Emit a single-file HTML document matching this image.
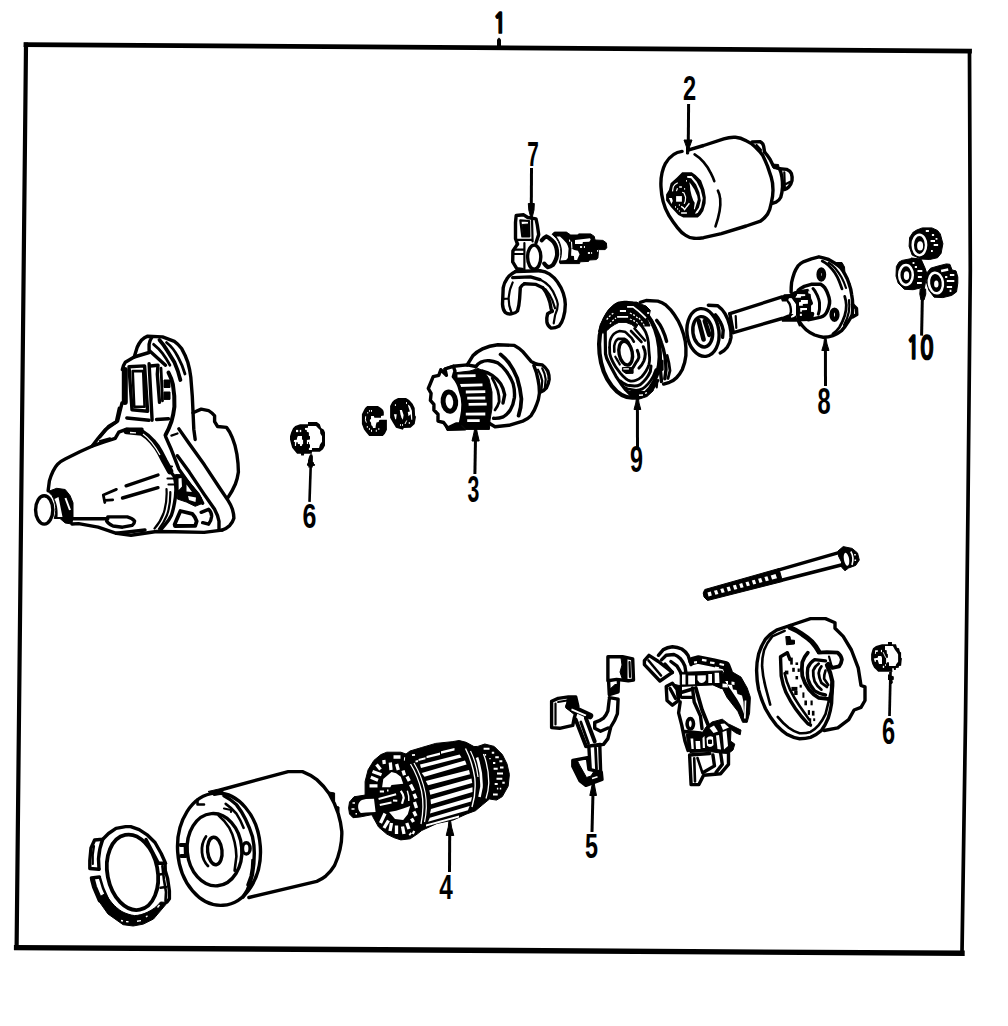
<!DOCTYPE html>
<html lang="en">
<head>
<meta charset="utf-8">
<title>Starter motor exploded view</title>
<style>
html,body{margin:0;padding:0;background:#fff;}
body{width:1008px;height:1026px;overflow:hidden;}
svg{display:block;}
.l{fill:none;stroke:#000;stroke-width:3.4;stroke-linecap:round;stroke-linejoin:round;}
.t{fill:none;stroke:#000;stroke-width:2.2;stroke-linecap:round;stroke-linejoin:round;}
.h{fill:none;stroke:#000;stroke-width:4.6;stroke-linecap:round;stroke-linejoin:round;}
.f{fill:#000;stroke:#000;stroke-width:1;stroke-linejoin:round;}
.w{fill:#fff;stroke:#000;stroke-width:3.4;stroke-linecap:round;stroke-linejoin:round;}
.wt{fill:#fff;stroke:#000;stroke-width:2.2;stroke-linecap:round;stroke-linejoin:round;}
.wf{fill:#fff;stroke:none;}
.ws{fill:none;stroke:#fff;stroke-width:2;stroke-linecap:butt;}
.ld{fill:none;stroke:#000;stroke-width:3;stroke-linecap:butt;}
.n{font-family:"Liberation Sans","DejaVu Sans Condensed",sans-serif;font-weight:700;font-size:37px;fill:#000;text-anchor:middle;}
</style>
</head>
<body>
<svg width="1008" height="1026" viewBox="0 0 1008 1026" shape-rendering="geometricPrecision">
<rect x="0" y="0" width="1008" height="1026" fill="#fff"/>
<!-- 00_frame -->
<g id="frame" fill="none" stroke="#000" stroke-linecap="square">
<path d="M26,44.6 L969.5,51.1" stroke-width="4.8"/>
<path d="M26,44.6 L16.6,947.5" stroke-width="4.2"/>
<path d="M969.5,51.1 L970.3,270 L968,505 L965.5,720 L962,953.2" stroke-width="3.7" stroke-linejoin="round"/>
<path d="M16.6,947.6 L962,953.3" stroke-width="5.4"/>
<path d="M497,39.5 L499,37.5 L501,39.5 L501,47 L497,47 Z" fill="#000" stroke="none"/>
</g>
<!-- 01_labels -->
<g id="labels">
<text class="n" style="font-family:'NanumGothic','Liberation Sans',sans-serif;font-size:28.2px;stroke:#000;stroke-width:1.7;stroke-linejoin:miter" transform="translate(499.8,32.9) scale(0.795,1)">1</text>
<text class="n" style="font-size:34.2px" transform="translate(689.5,100.1) scale(0.691,1)">2</text>
<text class="n" style="font-size:35.0px" transform="translate(533.0,166.1) scale(0.593,1)">7</text>
<text class="n" style="font-family:'NanumGothic','Liberation Sans',sans-serif;font-size:31px;stroke:#000;stroke-width:1.7;stroke-linejoin:miter" transform="translate(919.9,358.9) scale(0.733,1)">10</text>
<text class="n" style="font-size:36.2px" transform="translate(824.0,414.1) scale(0.652,1)">8</text>
<text class="n" style="font-size:36.2px" transform="translate(636.5,472.1) scale(0.645,1)">9</text>
<text class="n" style="font-size:36.2px" transform="translate(473.5,502.1) scale(0.589,1)">3</text>
<text class="n" style="font-size:35.8px" transform="translate(309.4,528.0) scale(0.698,1)">6</text>
<text class="n" style="font-size:37.5px" transform="translate(888.5,744.1) scale(0.630,1)">6</text>
<text class="n" style="font-size:35.0px" transform="translate(591.5,858.1) scale(0.668,1)">5</text>
<text class="n" style="font-size:35.9px" transform="translate(446.1,898.5) scale(0.679,1)">4</text>
</g>
<!-- 10_part2 -->
<g id="solenoid">
<!-- leader -->
<path class="ld" d="M688.6,104 L688.3,142"/>
<path class="f" d="M684,140 L692,140 L689.5,147 L688.5,154 L686.5,154 L686.5,147 Z"/>
<!-- body outline -->
<path class="l" d="M682.1,151.4 C676,152 670,156 665.5,163.3 C662,170 660.5,179 661,187.1 C661.3,193 662,197 663.1,201.4 C664.5,207 666.5,211.5 669,215.7 C672,220.5 674.5,224 677.4,227.6 C680,231 682.5,233.5 685.7,235.4 C688.5,237.3 691,238.2 694,238.3 C697,238.5 700,238.3 703.6,237.7 L721.4,233.6 L746.2,226 L760.5,221.2 C764,218.5 766,216.5 767.6,214 C769.5,211 770.5,207.5 771.2,203.3 C772.5,198 773,194 773,190.2 C773,185 772.5,181 771.2,177.1 L767.6,166.4 C766,162.5 764.5,159 762.9,155.7 C761,152.5 758.5,150 755.7,147.4 C753,144.5 750,142.5 746.2,140.8 C742,138.5 739,137.5 735.5,137.3 C731,137 727.5,137.7 723.8,138.9 L703.6,145.5 L688,150.2"/>
<!-- dashed face arcs -->
<path class="t" style="stroke-width:2.6" d="M694.6,154.4 C698,156.5 701,159 703.6,162.1 C706.5,165.5 709,169 710.7,172.9 C712.3,176 713.5,178.5 714.3,181.2"/>
<path class="t" style="stroke-width:2.6" d="M717.9,190.7 C719.3,193.5 720,196 720.2,199 C720.6,203 720.3,207 719.6,211 C718.7,216 717.2,221.5 715.5,226.4"/>
<!-- top tab -->
<path class="l" d="M752.1,142 L760,141.6 C762,142.5 763.2,144 763.6,146 L764.6,152.1"/>
<path class="t" d="M756.5,145 L761,150"/>
<!-- rear cap -->
<path class="l" d="M764.6,152.1 C767,154.5 768.5,157 770,159.3 L773.6,166.4 L779.5,168.8 C780.8,171.5 781.5,174 781.9,177.1 C782.4,180.5 782.6,183.5 782.5,186.7 C782.3,190.5 781.8,194 780.7,197.4 C779.5,200 778,201.2 776,202.1 L772.4,203.3"/>
<path class="f" d="M771.5,164 L778.5,164.5 L779.5,169.5 L773.5,168.5 Z"/>
<!-- knob -->
<path class="l" d="M779.5,168.8 L786.7,169.4 C789,170.3 790.5,171.8 791.4,173.6 C792.2,176 792.3,178.5 792,180.7 C791.5,183 790.5,185 789,186.7 C787.5,188.2 786,189 784.3,189.6"/>
<path class="t" d="M784.3,172.4 L784.9,189 M785,184.5 L790.2,181.8"/>
<!-- hub -->
<path d="M682.2,172.2 L691.7,172.2 L695.6,175 L701.1,180.6 L704.4,189.4 L705.8,197.2 L705.6,203.3 L703.3,211.1 L700.6,215 L697.8,217.5 L683.3,217.5 L678.3,215 L671.1,207.2 L666.1,200.6 L666.1,194.4 L668.9,190 L670.6,183.3 L676.7,177.8 Z" fill="#000"/>
<path class="wf" d="M687.2,176.1 L691.7,176.1 L696.7,181.7 L700.6,189.4 L702.8,198.3 L701.1,207.2 L697.8,212.8 L695.3,213.9 L695.6,212.2 L698.9,207.8 L700.8,200.6 L699.4,192.2 L696.1,184.4 L691.1,178.3 L687.2,177.8 Z"/>
<path class="wf" d="M689.4,182.2 L691.1,184.4 L694.4,189.4 L697.2,196.1 L697.8,199.4 L696.1,205 L694.7,209.4 L693.9,208.9 L694.7,202.8 L693.3,200.6 L691.7,196.1 L690.3,190 L690,186.1 Z"/>
<rect class="wf" x="676.1" y="196.1" width="5.8" height="5.6"/>
<path class="wf" d="M668.9,198.1 L671.9,198.1 L672.8,201.1 L671.4,203.9 Z"/>
<path class="ws" style="stroke-width:1.2" d="M672.5,191.4 L673.3,186.7 L675,184.4 L677.8,182.8 M676.4,191.1 L677.5,188.3 M682.2,192.2 L684,193 L685.6,197.2 L685.3,201.1 L684.2,203.9"/>
<path class="ws" style="stroke-width:1.7" d="M679.2,187 L681.9,187 M681.1,213 L686.9,213"/>
<path class="ws" style="stroke-width:1.4" d="M681.1,206.4 L683.3,207.8 L684.6,209.6 L686.7,206.7 L689.4,203.3"/>
<g fill="#fff"><rect x="686.1" y="180" width="0.9" height="1.7"/><rect x="684.2" y="188" width="0.9" height="1.7"/><rect x="678.9" y="204.2" width="0.9" height="1.7"/><rect x="675" y="206.1" width="0.9" height="1.7"/><rect x="677.2" y="208.1" width="0.9" height="1.7"/><rect x="678.9" y="210.3" width="0.9" height="1.4"/></g>
</g>
<!-- 11_part7 -->
<g id="fork">
<!-- leader -->
<path class="ld" d="M531.5,168.1 L531.3,206"/>
<path class="f" d="M528.3,203.5 L534.3,203.5 L534,210 L532.3,217 L530.6,217 L528.8,210 Z"/>
<!-- tab -->
<path class="l" d="M517.5,244.1 L515.5,238.7 L515.5,222.3 L516.2,215.5 L523.7,214.8 L527.8,217.5 L536,218.9 L537.3,225 L538.7,234.6 L536,242.8"/>
<path class="t" d="M520.3,220.3 L522.3,236.5 L529.3,236.5 L529.1,221 Z"/>
<path class="f" d="M522.2,224.5 L528.2,224 L528.5,236 L523.2,236 Z"/>
<path class="t" d="M516.8,239.8 L532,239.8 M532,219 L532.6,241.5"/>
<!-- left boss -->
<path class="l" d="M517.5,244.1 L512.9,251 L512.7,261.9 L516.8,268.7 L522.3,269.4"/>
<path class="t" d="M514,249.6 L524.4,249.6 M514,254 L524.4,254 M524.4,243 L524.4,272"/>
<!-- centre ellipse -->
<ellipse class="l" cx="534.2" cy="257.1" rx="6.6" ry="12"/>
<!-- top bars -->
<path class="l" d="M515.5,271.5 L540,270.8"/>
<path class="l" d="M512.7,277.6 L530.5,276.9 L540,279.6"/>
<path class="l" d="M524.4,283.7 L536,284.4 L542.8,287.8"/>
<!-- left arm -->
<path class="l" d="M515.5,271.5 C511,274 508.5,276 507.3,278.3 C505,281.5 503.7,284.5 503.2,287.8 L502.5,304.2 C502.7,308 503.5,310.5 505.2,312.4 C507,313.8 509,314.2 511.4,313.8 C514,313.5 516,312.8 517.5,311 C518.7,307 519.3,303 519.6,298.8 L520.3,287.8 C521.3,285.8 522.5,284.5 524.4,283.7"/>
<path class="t" d="M512.7,282.4 C510.5,287 509.2,292 508.7,297.4 C508.5,302.5 509.5,308 511.2,311.5 M503.5,298.8 L508.5,298.5"/>
<!-- right arm -->
<path class="l" d="M540,270.8 C544,271.3 547,272.5 549.6,274.2 C553,276.5 555.5,279 557.8,282.4 C560,285.5 562,289 563.3,293.3 C564.5,297 565.2,300.5 565.3,304.2 C565.3,309 564.7,313.5 563.3,317.9 C562.5,321 561,323.8 559.2,326 C556.5,327.5 554,328.2 551,328.1 C548.5,326.5 547.2,324.5 546.9,322 C546.6,319 546.8,316.5 547.6,313.8 L552.3,311"/>
<path class="l" d="M542.8,287.8 C545,290.5 546.8,293.5 548.2,297.4 C549.7,301 550.6,304.5 551,308.3 L552.3,311.5"/>
<path class="t" d="M540,279.6 C544,281.5 547,283.8 549.6,286.5 C552,289.5 553.8,292.5 555.1,296 C556.5,299 557.4,301.5 557.8,304.2 C557.8,308 556.5,312 555.1,315.1 L553.7,323.3"/>
<path class="t" d="M545.5,289.2 C548.5,292.5 550.5,296 552.3,300.1 L555.1,308.3"/>
<!-- plunger C ring -->
<path class="h" style="stroke-width:4.2" d="M541.8,240.3 C543.3,238.3 544.8,237 546.4,236.4 C547.6,236.8 548.5,237.4 549.6,238.4 C551.2,239.5 552.6,240.8 553.8,242.3 C555,244 555.9,246 556.4,247.9 C557,250.3 557.2,252.6 557.1,255 C556.8,257 556.2,259 555.4,260.7 C554.7,262.3 553.9,263.7 552.9,265 C551.4,266.3 549.8,267 547.9,267.1 C546.4,266.2 545.2,265 544.3,263.6"/>
<!-- plunger body -->
<path class="f" d="M552.1,234.3 L554.3,232.1 L566.4,232.1 L570.7,235 L577.9,235 L578.6,233.9 L590.7,233.9 L594.3,236.4 L595,240 L602.9,240.4 L606.4,242.9 L606.8,247.9 L605,249.6 L598.6,249.6 L597.9,257.9 L596.4,259.6 L589.3,260 L588.6,261.4 L580,261.8 L579.6,263.6 L560,263.6 L559.3,262.1 C560.8,258 561.2,253 560.6,248.5 C559.8,243.5 557.5,239 554,236 Z"/>
<path class="wf" d="M556.6,236.6 L560,236.4 L562.9,239.3 L566.4,242.9 C567.5,244.7 568.3,246.6 568.6,248.6 L568.2,253.6 L567.9,257.9 L566.1,260 L560.5,260.4 C561.8,256.5 562.2,252.5 561.8,248.8 C561,244 559.2,240 556.6,236.6 Z"/>
<path class="wf" d="M571.4,248.6 L574.3,250 L577.9,250.7 L579.6,254.3 L577.9,257.9 L577.1,260 L574.3,260 L573.9,256.1 L571.1,255.7 Z"/>
<path class="wf" d="M575,240 L590,238.2 L590.7,239.6 L589.3,241.8 L582.9,242.1 L582.5,243.9 L575,243.9 Z"/>
<path class="ws" style="stroke-width:1.1" d="M569.4,239.6 L569.9,241.8 M571.5,241.8 L571.9,248.5"/>
<g fill="#fff"><rect x="580" y="246.1" width="2.1" height="1.8"/><rect x="583.9" y="246.1" width="1.1" height="1.8"/><rect x="587.9" y="252.1" width="2.1" height="1.8"/><rect x="591.1" y="252.1" width="1" height="1.8"/><rect x="597.1" y="250" width="1.1" height="1.8"/></g>
</g>
<!-- 12_part10 -->
<g id="nuts">
<!-- leader -->
<path class="ld" d="M922.6,286 L921.6,335.6"/>
<path class="f" d="M920.2,289 L925.6,289 L925.8,294 L924,300 L921,300 L919.8,294 Z"/>
<path class="f" d="M911,258 L921,259 L925,268 L927,274 L924,290 L922,290 L922,270 Z"/>
<!-- top nut -->
<path class="f" d="M922.3,227.9 L931.9,227.9 L937.6,230.5 L940.3,234 L942.9,243.7 L941.1,253.3 L937.6,257.7 L929.7,259.5 L921,259 L912.2,255.1 L909.1,246.3 L909.6,237.5 L913.1,232.3 L916.6,230.1 Z"/>
<ellipse cx="919.4" cy="245" rx="6.7" ry="10.2" fill="none" stroke="#fff" stroke-width="2.5"/>
<ellipse cx="920.1" cy="245.9" rx="3" ry="4.6" fill="#fff"/>
<path class="ws" style="stroke-width:1.8" d="M925.8,231 L928.9,231 M931.9,235 L934.1,235 M930.6,241 L935,241 M933.7,245 L938.1,245 M931,251 L932.8,251 M936.5,238 L936.5,239.8"/>
<!-- left nut -->
<path class="f" d="M902.1,260.4 L911.3,258.6 L920.1,259.9 L923.6,267.4 L924.5,281.4 L922.7,287.5 L913.1,289.7 L904.3,289.3 L898.2,283.2 L896,276.1 L896.4,266.5 L899,262.1 Z"/>
<ellipse cx="906" cy="275" rx="6.8" ry="10" fill="none" stroke="#fff" stroke-width="2.5"/>
<ellipse cx="906.5" cy="275.7" rx="2.7" ry="4.4" fill="#fff"/>
<path class="ws" style="stroke-width:1.8" d="M912.6,263 L914.4,263 M914.8,267 L917,267 M917.5,271 L922.3,271 M917.9,277 L921.8,277 M917,283 L921.8,283"/>
<!-- right nut -->
<path class="f" d="M938.1,266 L946.4,263.9 L949.9,264.3 L952.1,270 L956,270.9 L957.8,277 L957.8,283.2 L956.5,291.9 L951.7,295.4 L942.9,297.6 L934.1,297.2 L928.9,290.2 L926.2,281.4 L927.1,272.6 L930.6,268.2 Z"/>
<ellipse cx="935.9" cy="283" rx="7" ry="10.4" fill="none" stroke="#fff" stroke-width="2.5" transform="rotate(-8 935.9 283)"/>
<ellipse cx="936.3" cy="284" rx="2.2" ry="3.6" fill="#fff"/>
<path class="ws" style="stroke-width:2.4" d="M941.1,271 L948.2,269.5"/>
<path class="ws" style="stroke-width:1.8" d="M949.9,275 L954.3,275 M945.1,277 L947.3,277 M946.8,281 L954.3,281 M946.8,287 L952.1,287 M950.5,289.7 L950.5,291.9"/>
</g>
<!-- 13_part8 -->
<g id="shaft-plate">
<!-- leader -->
<path class="ld" d="M825.4,348 L825.5,386"/>
<path class="f" d="M824.5,338 L826,338 L827,344 L829,350.5 L821.8,350.5 L823.8,344 Z"/>
<!-- plate outer -->
<path class="l" d="M791.1,292.2 C791.1,289 791.2,286 791.6,282.5 C792.3,279 793.2,276 794.3,272.9 C795.3,270.2 796.5,268 798,265.9 C799.8,264 801.7,262.7 803.9,261.6 L811.4,258.9 L818.9,256.8 L823.2,257.9 L828.6,259.5 L835,263.2 C837,264.5 838.8,265.8 840.4,267.5 C842,269.5 843.5,271.5 844.7,273.9 C846.5,277 848,280 849,283.6 C850.3,287 851.2,290.5 851.6,294.3 C852.3,298 852.7,301.5 852.7,305 C852.8,308.5 852.7,311.5 852.2,314.7 C851,317.5 849.5,320 847.9,322.2 C846,325.5 844,328.2 841.5,330.7 C839,332.8 836,334.5 832.9,335.6 C830,336.7 826.5,337.2 823.2,337.2 C820,336.8 817.5,336 814.7,335 C811.5,333.5 808.5,331.8 806.1,329.7 C803.5,327.5 801.5,325 799.7,322.2"/>
<!-- plate inner rim -->
<path class="t" style="stroke-width:2.8" d="M822.2,261.1 C824.5,262.3 826.5,263.7 828.6,265.4 C831,267.7 833.2,270 835,272.9 C836.8,275.7 838.2,278.5 839.3,281.4 L842,288.9"/>
<path class="t" style="stroke-width:2.8" d="M844.7,296.4 C845.6,299.2 846.1,302 846.3,305 C846.4,308.7 845.8,312.2 844.7,315.7 C843.3,320 841.5,324 839.3,327.5 C837.5,330 835.3,332.3 832.9,334"/>
<path class="t" d="M828.6,262.7 C831,264 833,265.8 835,268 C837.5,271 839.7,274 841.5,277.2 C843.5,281 845,284.5 846,288"/>
<path class="t" d="M849,300 C849.5,304 849.5,308 848.8,312 C848,316.5 846.3,321 844,325"/>
<!-- ears -->
<path class="f" d="M836,262.5 L842,262.5 L844.5,267 L845,274 L841,268 Z"/>
<path class="l" d="M852.5,304.5 L856.5,308.5 L856.8,314.5 L852.5,317"/>
<!-- holes -->
<ellipse class="h" cx="821.3" cy="274.5" rx="2.6" ry="5"/>
<ellipse class="h" cx="834.5" cy="314.7" rx="2.8" ry="5"/>
<!-- hub -->
<path class="l" style="stroke-width:3.5" d="M798.1,290.3 L801,288.2 L804.3,286.4 L811.2,284.3 L820.7,284.3 C822.5,285.3 823.8,286.5 824.9,287.9 C826.2,289.8 827.1,291.8 827.8,293.9 C828.8,296.3 829.4,298.6 829.6,301 C829.7,302.7 829.5,304.3 829,305.8 C828.6,307.7 828,309.5 827.2,311.1 C826.6,312.5 825.8,313.7 824.9,314.7 C823.7,315.8 822.3,316.6 820.7,317.1 L813,318.9 L808.2,319.8"/>
<path class="l" style="stroke-width:3" d="M813,288.5 C814.2,289.8 815.1,291.2 815.9,292.7 C816.9,294.4 817.7,296.2 818.3,298 C818.9,299.6 819.3,301.2 819.5,302.8 L819.5,309.3 C819.3,311 818.9,312.6 818.3,314.1"/>
<!-- splined shaft end (dark) -->
<path fill="#000" d="M793.3,292 L798.1,290.3 L808.2,288.8 L811.2,293.9 L812.4,298.6 L813,304 L811.2,305.8 L811.2,311.7 L813.5,311.7 L814.4,313.5 L813,318.9 L808.2,321 L797.5,321.5 L796,315.3 L796,304.6 L793.9,301.6 L792.5,298.5 L790,294.5 Z"/>
<path class="wf" d="M797.2,293.9 L805.2,294.2 L805.2,295.9 L801,296.2 L800.8,297.7 L795.1,297.7 L795.1,296.2 L796.9,295.6 Z"/>
<path class="wf" d="M801,300.1 L807.9,300.1 L807.9,303.7 L802.8,304 L802.8,305.8 L799,305.8 L799,302.2 L800.8,301.9 Z"/>
<path class="wf" d="M800.2,308.1 L807,308.1 L807,309.9 L801.9,310.2 L801.9,311.7 L800.2,311.7 Z"/>
<rect class="wf" x="799.9" y="313.8" width="2" height="2.1"/>
<path class="wf" d="M808.5,290.6 L810.6,292.1 L813,295.6 L815.3,299.8 L816.2,304.6 L815.9,311.7 L814.4,313.5 L813.5,311.7 L811.2,311.7 L811.2,305.8 L813,305.2 L813,302.2 L811.2,298.6 L810.6,293.9 L808.2,293.3 Z"/>
<!-- shaft -->
<path class="l" d="M729.8,313.6 L782.1,296.9"/>
<path fill="#000" d="M782,296.2 L784.1,294.2 L790,293.9 L793,292.1 L798.1,290.3 L797,294 L793.9,301.6 L789.1,298 L788.5,299.2 L788,301.6 L782,301.6 L781,299 Z"/>
<path class="l" d="M733.3,332.6 L782,318.5"/>
<path fill="#000" d="M781,317.5 L783.2,316.5 L787.4,314.7 L790.3,314.1 L793.6,314.1 L796,315.3 L797.5,320 L798.1,320.6 L801.6,326 L799,326.5 L796.9,321.8 L782,321.8 Z"/>
<path class="l" d="M729.8,313.6 L733.3,332.6"/>
<path class="t" d="M735.7,316 L736.3,327.9"/>
<!-- collar -->
<path class="wf" d="M789.1,298 L791.8,298.3 L793.9,301.6 L796,304.6 L796,315.3 L793.9,317.1 L791.2,317.7 L790.9,316.5 L793.6,314.1 L794.2,311.7 L793.9,305.8 L792.7,302.2 L790.9,299.8 Z"/>
<path class="t" style="stroke-width:2.4" d="M788,301.6 C789.3,303 790,304.5 790.3,306 C790.8,308 790.9,310 790.9,311.7 L790.3,314.1"/>
<!-- spring -->
<ellipse class="l" cx="703" cy="332.5" rx="16" ry="24" transform="rotate(-7 703 332.5)"/>
<ellipse class="l" cx="702.7" cy="331.8" rx="9.8" ry="15.3" transform="rotate(-8 702.7 331.8)"/>
<path class="h" d="M698.8,321 L703.6,339.5 M704.8,321 L709.3,334.8"/>
<path class="l" d="M708.3,305.2 L717.9,305.8 C721,308 723.2,310.5 725,313.6 C727.3,317.5 728.8,321.5 729.8,325.5 C730.8,329.5 731.2,333.5 731,337.4 C730.5,341 729.3,344 727.4,346.9 C725.5,349.5 723,351.5 720.2,352.9"/>
<path class="l" d="M715.5,314.8 C717.5,317 719,319.3 720.2,321.9 C721.7,324.5 722.7,327.3 723.2,330.2 L722.6,337.4"/>
</g>
<!-- 14_part9 -->
<g id="clutch">
<!-- leader -->
<path class="ld" d="M637.4,408 L637.5,447.5"/>
<path class="f" d="M636.5,397 L638.2,397 L639,403 L640.8,409.5 L634,409.5 L635.8,403 Z"/>
<!-- body behind -->
<path class="l" d="M640.3,302.3 L646.1,300.5 L657.8,301.1 C661,302 663.5,303.3 666,305.2 C669,307.8 671.8,310.8 674.2,314.5 C677,318.5 679.5,322.8 681.2,327.4 C683,332 684.5,336.5 685.3,341.4 C686,346 686.2,350.5 685.9,355.5 C685.4,360.5 684.2,365 682.3,369.5 C680.8,372.5 678.8,375.3 676.5,377.7 C674.5,379.7 672.2,381.2 669.5,382.3 L663.6,384.1"/>
<path class="l" d="M650.8,320.4 C653,323.5 655,327 656.6,330.9 C658.5,334.5 660,338.5 661.3,342.6 C662.8,346.8 664,351 664.8,355.5 C665.6,360 666,364.7 666,369.5 L664.8,378.8"/>
<path class="l" d="M656.7,320.3 C659,323 661,326 662.5,329.7 C664.3,333.5 665.7,337.3 666.6,341.4"/>
<path class="t" style="stroke-width:2.8" d="M667.1,355.5 C668.5,360.5 669.5,365.5 670,370.7 L668,378.5"/>
<path class="l" d="M659,346 C659.8,350 660.2,354 660.3,357.8 L660.5,371 L661.5,381.5"/>
<path class="f" d="M656,360.3 L663.1,360.3 L663.1,370.3 L656,370.3 Z"/>
<path class="t" d="M657.4,380.3 L656.7,387.4"/>
<!-- front face -->
<ellipse class="w" style="stroke-width:4.2" cx="629.4" cy="350.3" rx="30" ry="47.6" transform="rotate(-6 629.4 350.3)"/>
<!-- top dark band -->
<path class="f" d="M598.5,331.7 L600.3,324.6 L603.9,317.4 L608.1,310.3 L613.9,304.6 L618.1,302.1 L636.7,302.1 L640.3,303.9 L646,306 L650.3,310.3 L648.9,317.4 L647.4,319.6 L650,326 L646,326 L641.7,326 L638.9,323.1 L636,328.1 L631.7,324.6 L626,322.4 L618.9,322.4 L614.6,324.6 L610.3,327.4 L607.4,330.3 L603.5,333.1 Z"/>
<g class="ws" style="stroke-width:1.8">
<path d="M627.1,306.9 L633.1,306.9 L638.9,311.4 L642.4,314.6 L646,318.1"/>
<path d="M619.9,311 L626,311 M617.1,316.9 L628.1,316.9"/>
</g>
<g class="ws" style="stroke-width:1.3" stroke-dasharray="2 1.6">
<path d="M606.7,319.6 C609,316.5 611.8,314 614.6,312.4"/>
<path d="M609.9,323.9 C611.8,321.5 613.8,319.5 616,318.1"/>
<path d="M629.9,313 C633.5,314.5 636.5,316.5 638.5,319 M629.9,319 C633.5,320.3 636.5,322 638.5,324.5 M639,318 C641,320.5 643,323 644.5,326"/>
</g>
<rect class="wf" x="647.1" y="312.1" width="2.1" height="1.8"/>
<!-- left lines -->
<path class="l" style="stroke-width:3.2" d="M605.2,331 L605.3,340 L605.5,353.9 C606,356.5 606.8,359 608.2,361.5 L611.8,368.6 L616,376.3 L620.8,383.4 L625.8,389.9 L631,395"/>
<!-- ring A / L2 -->
<path class="l" style="stroke-width:2.8" d="M609.6,347.4 L609.8,353.9 C610.4,356.5 611.3,358.8 612.4,361 C613.5,363.3 614.7,365.4 616,367.4 L620.3,373.1 C622,375.2 623.8,377.2 626,378.9 C627.3,380 628.7,380.7 630.3,381 C632.3,381.2 634.2,381 636,380.3 C638,379.5 639.9,378.3 641.7,376.7 C643.3,375 644.7,373.1 646,371 C647.2,369 648.2,366.9 648.9,364.6 C649.5,362.3 649.8,359.9 649.6,357.4 L648.9,350.3 L648.4,342.4 C648,340.2 647.7,338 647,336 C646.5,334 645.7,332 644.6,330.3 L641.7,326 L638.9,323.1"/>
<path class="t" style="stroke-width:2.6" d="M609.6,347.4 L609.8,342.4 C610,340.9 610.4,339.4 611,338.1 C611.8,336.5 612.8,335.1 613.9,333.9 C615.5,332.4 617.4,331.4 619.6,331 L624.6,331.7 C625.9,332.5 627,333.5 628.1,334.6 L631.7,338.1 L633.9,341.7"/>
<!-- L3 / ring C -->
<path class="t" style="stroke-width:2.6" d="M614.3,351.7 L614.2,346 C614.5,344.5 614.9,343 615.5,341.7 C616.2,340.5 617.1,339.5 618.1,338.9 L624.6,338.9 C626,339.6 627.2,340.6 628.1,341.7 L630.3,346"/>
<path class="t" d="M615.3,356.7 L618,361.5 M616.8,359 L619.8,364.5"/>
<!-- hole ring -->
<ellipse class="l" style="stroke-width:3.4" cx="625.7" cy="353.2" rx="6.6" ry="12" transform="rotate(-11 625.7 353.2)"/>
<!-- right arcs -->
<path class="l" style="stroke-width:3" d="M637.3,350.3 C638.3,352.5 638.9,355 638.9,357.4 C638.3,359.5 637.3,361 636,362.4 L633.1,367.4"/>
<path class="l" style="stroke-width:3" d="M643.3,346.7 C644.5,349 645.2,351.5 645.3,353.9 C645.2,356.5 644.7,358.8 643.9,361 C642.7,363.8 641,366.2 638.9,368.1"/>
<!-- hatch upper-right -->
<path class="t" style="stroke-width:2.6" d="M631,331 L641.5,342 M634.5,328.5 L645,340.5"/>
<!-- bottom merged -->
<path class="f" d="M622.4,367.6 L633.1,367.4 L633.1,373.3 L626,373.5 L622.4,371 Z"/>
<path class="ws" style="stroke-width:1.4" d="M623.3,368.9 L628.9,368.9"/>
<!-- bottom arcs -->
<path class="l" style="stroke-width:3" d="M651,366 L650.3,371.7 C649.2,374.3 647.8,376.7 646,378.9 C644.3,381 642.5,382.9 640.3,384.6 C638.5,385.5 636.6,386 634.6,386 L627.4,385.3 L623.1,383.1 L620.3,381"/>
<path class="l" style="stroke-width:2.8" d="M656,369.6 L653.1,376.7 C651.7,379.3 650,381.7 648.1,383.9 C646.4,385.8 644.5,387.5 642.4,388.9 C640.4,389.8 638.2,390.3 636,390.3 L627.4,388.9 L623.9,387.4"/>
<path class="t" style="stroke-width:2.6" d="M658.1,380.3 L654.6,386 L650.3,390.3 L646,392.4"/>
<path class="f" d="M628,391.5 L648,391.5 L655,386 L653,391 L647,396.5 L638,399.5 L633,398 Z"/>
<path class="ws" style="stroke-width:1.4" d="M639,395.2 L643,395 M645,393.3 L647,392.7"/>
</g>
<!-- 15_housing -->
<g id="housing">
<!-- nose -->
<ellipse class="l" cx="44.2" cy="509.9" rx="8.6" ry="14.2"/>
<path class="f" d="M48.1,491.5 L56.7,488.3 L65.2,489.5 L70,495.5 L73,502.8 L73,517.5 L71.8,524 L65.2,523 L60,518.5 L54.2,518.5 C56.5,512 56.5,503 52,495.5 Z"/>
<path class="wf" d="M54.5,499 L58.5,497 L62.5,517 L57.5,517 C58,510 57,504 54.5,499 Z"/>
<path class="ws" d="M65.5,498 L70,510"/>
<!-- cone top line -->
<path class="l" d="M48.1,490.7 L49.4,480.9 C50.3,477.5 51.5,474.3 53,471.2 C54.3,468.5 56,466 57.9,463.9 C60,462 62.5,460.3 65.2,459 L79.8,451.7 L92,446.2 L98.1,438.3 L105.4,429.7 L117.6,421.2 L122,403"/>
<path class="l" d="M92,446.2 L104.2,441.9 L115.2,438.3 L118.8,432.2 L126.1,429.3 L142,429.3"/>
<path class="t" d="M100,441 L110,438.3"/>
<!-- bottom lines -->
<path class="l" d="M72.5,518.7 L107.8,518.7"/>
<path class="l" d="M72,524 L78.6,523.6 L98.1,527.2 L116.4,533.3 L131,535.2 L156.5,531.5 L174.4,531.8 L204.2,532.4 L222,530.1"/>
<path class="l" d="M107.8,516.9 L127.3,516.9 C131,518 133.2,519.3 134.6,521.1 C134.5,523 133.7,524.4 132.2,525.4 L122.5,527.2 L113,526 C109.5,524.5 107.5,523 106.6,521.1 Z"/>
<path class="l" d="M116.4,533.3 L145,530"/>
<!-- lines on cone -->
<path class="l" d="M126.1,485.8 L158,475 M122.5,498 L158,487.7"/>
<path class="t" style="stroke-width:2.8" d="M116.4,489.4 L103.3,495 L104.8,502.5 M104.8,500.4 L112.7,499.8"/>
<!-- flange rim band -->
<path class="l" style="stroke-width:6.5" d="M126.8,431 L141.7,432.5 C146,435 149.5,438 152.6,441.8 C155.5,445 158,448.5 160,452.3 L164.5,461 L170,471"/>
<path class="ws" style="stroke-width:1.3" d="M130,432.5 L136,432.8 M143,434 C150,439 155,446 160,455"/>
<path class="l" d="M170,471 L174.4,476.5 C175.5,481 176,485.5 175.9,490 C175.8,494.5 175.3,499 174.4,503.3 C173.7,507.5 172.7,511.5 171.4,515.2 C169.8,518.5 167.8,521.5 165.5,524.2 L161.5,529"/>
<path class="t" d="M166.5,489 C167,497 166,506 163.5,513.5 C161.5,519 158.5,524 154.5,528.5"/>
<path class="t" d="M170.3,492 C170.5,500 169.5,508 167,515 C165,520 162.5,524.5 159,529"/>
<!-- flange right edges -->
<path class="l" d="M178.9,428.9 L189.3,443.8 L204.2,464.6 L219,487 L228,500.4 C230,503.5 231.5,506.3 232.4,509.3 C233.3,512.3 233.9,515.2 233.9,518.2 C233,521.2 231.5,523.7 229.5,525.7 C227.3,527.8 224.8,529.2 222,530.1"/>
<path class="l" d="M177.4,455.7 L189.3,472.1 L204.2,494.4 L214.6,509.3 C216.7,513 218.3,517 219,521.2 L219,529"/>
<path class="l" d="M165.5,436.4 L171.4,449.8 L178.9,469.1 L189.3,484 L198.2,494.4 L202.7,503.3"/>
<!-- inner dark mass -->
<path class="f" d="M175.5,474.5 L183.5,474.8 L192.3,485.5 L201.2,497.4 L202.7,503.3 L195.2,506.3 L186.3,502 L177.4,499 Z"/>
<path class="wf" d="M178.5,478.5 L181.5,478 L182,486.5 L178.7,490 Z M186.5,484.5 L192,492 L186.5,491.5 Z M188,496 L196,497.5 L195.5,502 L189,500 Z"/>
<path class="t" d="M166,466.5 L172,466.5 M167.5,478.5 L174,478.5 M168.5,484.5 L175,484.5"/>
<!-- bottom holes -->
<path class="l" style="stroke-width:3.8" d="M174.6,524.4 L180.4,511 L192.3,513.8 C194.5,516 196,518.5 196.7,521.2 L195.2,525.9 L175,526 Z"/>
<path class="l" d="M201.2,512.3 L208.6,509.3 C210.8,511.5 211.8,514 211.6,516.7 C211.3,519.8 210.3,522.3 208.6,524.2 L202.7,522.7"/>
<!-- right bulge -->
<path class="l" d="M193,412.8 L201.2,409.1 L208.6,410.6 C211,412 213,413.8 214.6,415.8 L214.6,421.7 L217.6,426.5 L226.5,427.4 C229,430.5 231,434 232.4,437.9 C234.5,443 236,448.5 236.9,454.2 C237.8,460 238.4,466 238.4,472.1 C237.8,476.5 236.8,480.5 235.4,484 C233.3,489 230.8,493.5 228,497.4"/>
<!-- upper cap outline -->
<path class="l" style="stroke-width:6" d="M124.8,402 L124.8,370"/>
<path class="l" d="M122.3,369.6 C123,366.5 124,364 125.3,362.2 L134.2,357 L137.2,347.3 C138.5,344.3 140,342 141.7,339.9 C143.5,338.2 145.5,337 147.6,336.2 L162.5,336.9 L174.4,341.4 C177.3,343.5 179.7,346 181.8,348.8 C184.2,353 186.2,357.5 187.8,362.2 C189.2,367 190.2,372 190.8,377.1 L192.3,396.4 L193,411.3 L193.8,429.2 L195.2,439.6"/>
<path class="l" d="M152.1,336.9 C150.5,339.2 149.5,341.7 149.1,344.3 L149.1,350.3 L150.6,351.8 L165.5,365.2"/>
<path class="l" d="M134.2,357 L149.1,352.5"/>
<path class="l" style="stroke-width:3.8" d="M159.5,339.9 C162.3,343 164.8,346.5 167,350.3 L174.4,362.2 C177,368 179,374 180.4,380"/>
<path class="t" style="stroke-width:2.8" d="M153.6,344.3 C157,347 160,350 162.5,353.3 C165.3,357 167.8,361 169.9,365.2"/>
<path class="t" style="stroke-width:2.8" d="M166.5,342.5 C171,346 175,351 178,357 C181,362.5 183.3,368 185,374"/>
<!-- window box -->
<path class="l" d="M129,366.7 L144.6,365.9 L147.6,411.3 L132,409.8 Z"/>
<path class="t" style="stroke-width:2.6" d="M132.7,371.1 L143.2,371.1 L144.6,406.8 L134.2,406.8 Z"/>
<path class="l" d="M149.1,363.7 L152.1,420.2"/>
<path class="l" d="M150.5,366 L158,365.2 L157.3,374.1 L159.5,402.4"/>
<path class="t" style="stroke-width:2.8" d="M161,368.2 L162.5,400.9"/>
<path class="f" d="M164,380 L170,380 L170,387.5 L164,387.5 Z M164,392 L170,392 L170,399.4 L164,399.4 Z"/>
<path class="l" style="stroke-width:4" d="M168.5,372.6 C170.5,376.3 172,380.3 172.9,384.5 C174.2,392 174.7,399.5 174.4,406.8 C173.8,412 172.8,417 171.4,421.7 C169.8,426.5 167.8,431 165.5,435.1"/>
<path class="l" d="M126.8,418 L149.1,420.2 M156.5,419.5 L168.5,418.8"/>
<path class="l" d="M119.3,408.3 L116.4,421.7 L108.9,426.2 L100,436.6"/>
<path class="t" d="M171.4,435.6 L177.5,433.5"/>
</g>
<!-- 16_part3 -->
<g id="bushing-left">
<path class="ld" style="stroke-width:2.6" d="M310.7,466 L309.5,501.9"/>
<path fill="#000" d="M310.2,454.2 L309.1,456.4 L308,460.2 L308,462.3 L306.9,464.3 L307.2,465.7 L308.3,466 L308.3,467.6 L312.7,467.6 L312.9,466 L314.9,465.7 L315.1,464.3 L314,464 L314,462.4 L312.9,462.1 L312.9,456.4 L312.1,454.2 Z"/>
<path fill="#000" d="M308,422 L316.8,422 L319.8,424.2 L321.1,428 L323.9,429.7 L325,432.4 L325,445.5 L323,449.3 L319.8,451.8 L311.9,451.8 L311.9,453.7 L304.2,453.7 L303.9,455.6 L301.2,455.6 L300.9,453.7 L297.1,453.7 L295.2,451.5 L292.2,447.7 L291.1,443.9 L290,439.5 L290,436.2 L291.1,432.4 L293,428.3 L295.2,426.1 L300.1,424.2 L308,424.2 Z"/>
<path class="wf" d="M308,426.1 L316,426.1 L317.9,428 L320,429.9 L320.3,433.5 L322,436.2 L322,441.7 L320,444.4 L319,448 L312.1,448 L311.9,449.9 L308.9,449.9 L308.9,448.2 L310,447.4 L310,444.4 L308.9,443.9 L308.9,441.9 L308,441.9 L308,444.1 L306.9,444.1 L306.9,440 L310,439.5 L310,436.2 L308.9,435.7 L308.9,432.4 L306.9,431.8 L306.7,429.9 L305,429.7 L305,428 L308,427.7 Z"/>
<path class="wf" d="M297.9,435.9 L302,435.9 L302,439.5 L303.1,440 L303.1,443.9 L302,444.4 L301.8,446 L300.1,446 L299.8,444.1 L297.9,443.9 L297.7,442.2 L296.3,442.2 L296,446 L294.9,446 L294.9,441.9 L293.8,441.7 L294.1,440 L296.8,439.8 L297.1,437.8 Z"/>
<rect class="wf" x="296" y="429.9" width="2.2" height="2.2"/><rect class="wf" x="299.8" y="429.9" width="1.4" height="2.2"/>
</g>
<g id="cclip">
<path fill="#000" d="M367.2,405.9 L377.9,405.9 L381,408 L383.1,410.1 L383.8,412.1 L383.8,415.6 L381,416 L381,417.7 L374.4,417.7 L373.8,416 L371,416 L371,419.1 L369.9,419.8 L369.9,421.2 L371,422.6 L371.3,425.3 L372.4,426 L373.1,428.1 L375.5,428.1 L375.8,425.3 L376.5,422.6 L378.6,421.9 L379.3,420.1 L381,419.8 L386.9,419.8 L386.9,429.8 L384.9,433.7 L382.8,436.1 L369.2,436.1 L366.1,432.3 L364,429.5 L361.9,423.9 L361.9,414.2 L364,410.1 L365.1,408 Z"/>
<path class="ws" style="stroke-width:1" d="M365.7,416.3 L365.4,419.8 L366.4,422.6"/>
<g fill="#fff"><rect x="369.2" y="410" width="0.8" height="1.8"/><rect x="371" y="410" width="1" height="1.8"/><rect x="367.2" y="412.1" width="1" height="1.4"/><rect x="366.8" y="426" width="1" height="1.8"/><rect x="368.9" y="428.1" width="1" height="1.8"/><rect x="371" y="429.8" width="1" height="2"/><rect x="375.8" y="429.8" width="1" height="2"/><rect x="378.3" y="428.1" width="1" height="1.8"/></g>
</g>
<g id="ring">
<path fill="#000" d="M398.1,397.9 L406,397.9 L409.2,400 L412.6,403.8 L414.7,408 L415.1,415.6 L416,416.7 L414.7,423.9 L410.6,427.8 L403.8,428.1 L402.9,429.8 L396,427.8 L392.8,422.6 L390.1,417.7 L390.1,405.9 L392.2,402.1 L394.2,400 Z"/>
<path class="wf" d="M399.8,410.1 L401.9,410.1 L403.6,414.9 L402.9,419.8 L401.5,417.7 L400.5,414.2 Z"/>
<path class="wf" d="M393.9,414.2 L396.7,414.2 L396,419.8 L395,418.4 Z"/>
<path class="wf" d="M407.8,404.5 L409.9,405.9 L411.9,410.8 L412.3,419.8 L411.3,419.8 L410.6,414.2 L408.5,416.3 L407.8,412.1 L409.9,411.4 L408.5,407.3 Z"/>
<g fill="#fff"><rect x="394.9" y="404.2" width="1" height="1.8"/><rect x="406" y="402.1" width="1" height="1.8"/><rect x="400.1" y="424" width="0.8" height="2"/><rect x="402.2" y="424" width="0.8" height="2"/><rect x="408.8" y="422" width="1" height="2"/></g>
<path class="ws" style="stroke-width:1" d="M406.7,420.5 L405,424"/>
</g>
<g id="pinion">
<!-- leader -->
<path class="ld" d="M475.5,438 L474.9,474"/>
<path class="f" d="M474.8,428 L476.4,428 L477.3,433 L479.2,441 L472,441 L473.9,433 Z"/>
<!-- clutch body outer -->
<path class="l" d="M467.2,364.9 L472.8,355.8 C475.5,353 478.8,350.7 482.5,348.9 C487,346.8 492,345.4 497.8,344.7 L514.4,345.4 C517.5,347 520.3,349 522.8,351.7 L531.1,361.4 L536.7,364.2"/>
<path class="l" d="M533.9,365.6 C535.8,370 537.2,374.5 538,379.4 C539,384 539.5,388.5 539.4,393.3 C539,397.3 538.1,401 536.7,404.4 C535.3,408.5 533.5,412.2 531.1,415.6 C528.8,418 526,419.8 522.8,421.1 L508.9,425.3 L495,426.7 L488,422.5"/>
<!-- knob -->
<path class="l" d="M536.7,364.2 L542.2,364.9 C544.5,366.5 546.3,368.5 547.8,371.1 C548.8,373.8 549.3,376.5 549.2,379.4 C548.8,382.5 547.8,385.3 546.4,387.8 C544.8,389.7 543,391 540.8,391.9"/>
<path class="t" d="M538,369.7 C540,373 541.5,376.8 542.2,380.8 L541.5,390"/>
<path class="t" d="M542.2,368.3 C544,371.5 545.2,375.3 545.7,379.4 L544.8,388"/>
<!-- inner arcs -->
<path class="l" d="M475.6,366.9 C477,365 478.8,363.3 481.1,362.1 C483.8,360.8 486.5,360.4 489.4,360.7 C492.3,361 495,361.7 497.8,362.8 C501,365 503.7,367.7 506.1,371.1 C509,375 511.3,379 513.1,383.6 C514.3,388 514.8,392.7 514.4,397.5 C513.8,402 512.5,406.2 510.3,410 C508.5,412.8 506.2,415.2 503.3,416.9 C500.3,418 497,418.5 493.6,418.3"/>
<path class="l" style="stroke-width:3.8" d="M500.6,354.4 C503.5,356.8 506.3,359.5 508.9,362.8 C512.3,367.5 515,372.5 517.2,378.1 C519.3,384.8 520.7,391.8 521.4,398.9 C521.3,404.7 520.3,410.3 518.6,415.6"/>
<path class="l" d="M482.5,371.1 C486,372 489.2,373.3 492.2,375.3 C495.5,377.5 498.3,380.3 500.6,383.6 C502.7,387 504,390.7 504.7,394.7 L503,403"/>
<path class="t" style="stroke-width:2.8" d="M492.2,378.1 C494.5,382 496.3,386.2 497.8,390.6 C498.8,394.3 499.3,398 499.2,401.7 C498.3,404.8 497,407.5 495,410"/>
<!-- gear body dark -->
<path class="l" d="M445,369 L453.3,366.3 L467.2,364.9 L476,366.5"/>
<path class="f" d="M455,372.8 L470,371 L478,368.5 L484,371 L489,379 L492,392 L492,408 L490,420 L489.4,429.4 L465.8,429.4 L460.3,423.9 L461.7,416.9 L463,404.4 L460.3,390.6 L453.3,376.7 Z"/>
<path class="ws" style="stroke-width:2.8" d="M457.5,376 L475.6,375.6 M458.9,385.5 L482.5,384.8 M465.8,392 L485.3,391.7 M467.2,398.2 L485.3,398 M468.6,404.4 L486.7,404.2 M465.8,414.2 L485.3,414 M467.2,420.7 L479.7,420.6"/>
<!-- gear front face -->
<path class="w" d="M428.3,388.5 L433.2,376.7 L438.8,375.3 L440.8,369.7 L446.4,375.3 L445,369 L453.3,366.3 L455,371 L453.3,376.7 C457,381 459.3,385.5 460.3,390.6 C462,395 463,399.5 463,404.4 C463,409 462.6,413 461.7,416.9 L460.3,423.9 L456.1,423.9 L447.8,428 L443.6,422.5 L438,421.1 L438,414.2 L433.9,410 L433.9,404.4 L430.4,400.3 L431.1,393.3 Z"/>
<path class="f" d="M443.6,422.5 L447.8,428.5 L456.1,424.5 L460.3,424.5 L465.8,430 L447,430.5 Z"/>
<ellipse class="l" style="stroke-width:5" cx="449.4" cy="401.6" rx="6.3" ry="9.6" transform="rotate(-6 449.4 401.6)"/>
</g>
<!-- 17_yoke -->
<g id="gasket">
<!-- lower dark band -->
<path class="f" d="M99,901.3 L107.9,913.9 L123.1,924.7 L133.2,926 L143.4,924.1 L153.5,919 L161.1,910.1 L167.5,902.5 L160.5,902 C157,906.5 152.5,910 147.2,912.3 C143,914.3 138.8,915.5 134.5,915.6 C130,915 126,913.6 122,911.6 C118.3,909.3 115,906.3 112,903 C109.5,900 107.5,897 105.5,893.5 L101,896 Z"/>
<path class="ws" style="stroke-width:1.4" d="M121,920.5 L123,921 M126,921.6 L128.5,921.8 M137,921.3 L141,920.6 M146,917 L147.5,915.7 M157.5,907.5 L159.5,905"/>
<!-- lower-left tab -->
<path class="l" style="stroke-width:5" d="M92.5,879.5 L94.5,887 L100,900"/>
<path class="l" d="M91.4,878 L99.5,877"/>
<path class="t" style="stroke-width:2.6" d="M100,878 L103,888 L108.5,900.5"/>
<!-- outer outline -->
<path class="l" d="M99,869.2 L89.8,868.5 L89.8,860.7 L91,848 L94.6,840 L102.8,839.2 L108.5,833.5 L116,828.3 L125.6,826.6 L130.7,826.6 L139.2,829.7 L147.6,835.2 L155,842.5 L161.2,853.5 L165,862 L165.3,870.8 L167.6,878.4 L169.4,891.1 L169.4,898.7 L167,902"/>
<path class="l" d="M102.8,839.2 C100.5,845 99,852 98.5,859 L99,869.2"/>
<path class="t" d="M94,846 C92.8,851.5 92.4,857 92.8,864"/>
<!-- inner ring -->
<ellipse class="l" style="stroke-width:3.8" cx="132.5" cy="872.3" rx="25.1" ry="38.1" transform="rotate(-11 132.5 872.3)"/>
<!-- right side detail -->
<path class="l" d="M146,839.5 L158,862.5"/>
<path class="l" d="M157.5,863.2 L165.5,863.2"/>
<path class="t" style="stroke-width:2.6" d="M162.4,866 L164,880 L166,892 L165.5,901"/>
<path class="t" style="stroke-width:2.6" d="M159.5,874.5 L164,873.8 M160.5,887.8 L166,887"/>
</g>
<g id="yoke">
<!-- body -->
<path class="l" d="M222.1,789.5 L288.2,771.6 L302.5,771.6 C307.5,773.5 312.3,776.2 316.8,779.6 C321.5,783.7 325.7,788.5 329.3,793.9 C333,800 336,806.5 338.2,813.6 C340,819.5 341.2,825.3 341.8,831.4 C342,837.5 341.4,843.5 340,849.3 C338.7,855 337,860.3 334.6,865.4 C332.2,869.5 329.2,873 325.7,876.1 C323,878.3 320,880 316.8,881.4 L248.9,897.5"/>
<path class="f" d="M329,792 L334.6,793 L334.6,801 L331.5,797 Z M336.4,806.4 L339,807 L339,811.8 L337,810 Z"/>
<!-- front outer ellipse -->
<ellipse class="l" cx="219" cy="849.2" rx="41.4" ry="56.2" transform="rotate(-4 219 849.2)"/>
<path class="f" d="M208,791.5 L222,788.3 L223.5,794 L214,795.5 Z"/>
<!-- second rim arcs -->
<path class="l" d="M223.9,795.7 C228.5,798 232.7,801 236.4,804.6 C239.8,809 242.8,813.7 245.4,818.9 C248.3,824.7 250.7,830.7 252.5,836.8 C253.7,842 254.3,847.5 254.3,852.9 C254.3,860 253.7,867.2 252.5,874.3 C251.2,880 249.4,885.3 247.1,890.4 L243,897"/>
<path class="t" style="stroke-width:2.6" d="M225.7,803.8 C229.7,806.5 233.3,809.8 236.4,813.6 C239.3,818 241.7,822.8 243.6,827.9"/>
<path class="t" style="stroke-width:2.6" d="M252.5,860 C252.5,865.5 251.9,870.8 250.7,876.1 L247.5,885"/>
<path class="t" d="M224,808.5 L231,810 L231,812"/>
<path class="t" style="stroke-width:2.6" d="M197.5,799.5 L197.5,804.5 L204,804.5"/>
<!-- inner ellipse -->
<ellipse class="l" cx="214.5" cy="849.7" rx="27.3" ry="36.2" transform="rotate(-5 214.5 849.7)"/>
<path class="t" style="stroke-width:2.6" d="M218.6,815.4 C223,819 226.5,823.2 229.3,827.9 C231.8,832.3 233.5,837 234.6,842.1 C235.7,847 236.3,851.7 236.4,856.4 L234.6,870.7"/>
<!-- hole -->
<ellipse class="l" cx="214.8" cy="851" rx="7.2" ry="13.8" transform="rotate(-6 214.8 851)"/>
<path class="t" style="stroke-width:2.8" d="M206,836.5 C202.8,841 201.5,846.5 202,852.5 C202.5,858 204.5,862.5 208,866"/>
<!-- small circle -->
<ellipse class="l" cx="246.3" cy="848.4" rx="3.8" ry="5.6"/>
<!-- left tab -->
<path class="l" style="stroke-width:3.8" d="M180.5,845 L185.5,845 L185.8,856 L181,856"/>
</g>
<!-- 18_part4 -->
<g id="armature">
<!-- leader -->
<path class="ld" d="M449.7,832 L449.5,872"/>
<path class="f" d="M449,820 L450.5,820 L451.5,827 L453.8,835.5 L446.2,835.5 L448.3,827 Z"/>
<!-- silhouette -->
<path class="f" d="M365.1,795.5 L365.1,781.5 L368.1,769.8 L373.9,760.4 L380.9,754.6 L386.8,752.2 L400.8,752.2 L406,754 L410,751 L421.7,747.5 L435.7,743.4 L452.1,741.7 L459.1,740.5 L466.1,742.3 L474,746.6 L477.8,746.4 L484.8,744 L494.2,746.4 L502.3,754.5 L507,763.9 L509.4,774.4 L508.2,786.1 L502.3,796.6 L496.5,800.1 L489.5,799 L482.5,804.8 L475.5,810.7 L466.1,814.2 L453.3,820 L436.9,823.5 L421.7,830.5 L417.2,834.1 L410.2,838.8 L400.8,839.9 L393.8,837.6 L386.8,834.1 L378.6,827.1 L372.7,816.5 L368,806 Z"/>
<!-- core white stripes -->
<g fill="#fff">
<path d="M418.5,759 L425.5,757.2 L425.5,759.2 L418.5,761 Z M426.5,756 L440,752.5 L440,755 L426.5,758.2 Z M441,751.2 L454.5,748 L454.5,750.5 L441,753.7 Z"/>
<path d="M420,764.6 L459.6,754.6 L461.5,757.5 L421,768 Z"/>
<path d="M421.7,773 L465,760.4 L466.6,764.4 L424.5,776.8 Z"/>
<path d="M425.8,781 L469,770 L470,774.3 L428,785.3 Z"/>
<path d="M429.3,790.2 L471.5,778.5 L472.2,783 L430.3,794.7 Z"/>
<path d="M430.5,799.5 L472.5,787.3 L472.5,792 L431,804.3 Z"/>
<path d="M431,809 L472,797 L471,801.6 L430,813.6 Z"/>
<path d="M429.9,817.7 L469.6,806 L468,810.2 L428,821.8 Z"/>
<path d="M426,824.6 L459,815.6 L459,817.6 L426,826.6 Z"/>
</g>
<path class="ws" style="stroke-width:1.8" d="M412,755.2 L415,754.8 M415.5,761.6 L418,761"/>
<!-- band between commutator and core -->
<path class="ws" style="stroke-width:1.3" d="M410.5,764 C415.5,772 419,781 421.5,791 C423.5,801 423.5,812 421,824"/>
<path class="ws" style="stroke-width:1.2" d="M414,763 C419,771.5 423,781.5 425.3,793 C427,803 426.5,813 424.5,822"/>
<!-- bands right of core -->
<path class="ws" style="stroke-width:1.4" d="M465.5,748.5 C470,757 473,767 474.8,778 C475.8,788 474.8,798 472,807"/>
<path class="ws" style="stroke-width:2.6" d="M477,757.5 C480.3,767 481.8,777 481.5,787 L479.5,797"/>
<path class="ws" style="stroke-width:1.3" d="M483.5,754 C487,763 488.8,773 488.8,783 C488.5,789 487.5,794 486,798.5"/>
<path class="ws" style="stroke-width:1.2" d="M470.5,751 C474.5,759 477,768 478,777"/>
<!-- rear white dashes -->
<path class="ws" style="stroke-width:2" d="M483.6,748.7 L489.5,748.7 M491.8,752.8 L494.2,752.8 M495.3,757.2 L498.8,757.2 M493,763 L495.3,763 M499.4,761.3 L502.3,761.3 M493.6,768.8 L497.7,768.8 M500,767.6 L503.5,767.6 M497,773.5 L503,773.5 M496.5,778.8 L502.3,778.8 M494.7,784 L497.7,784 M502.3,782.8 L504.7,782.8 M493,794.5 L497.7,794.5"/>
<path class="ws" style="stroke-width:1.4" d="M485.4,754 L485.4,755.8 M490,758 L490,759.2 M497.6,787.8 L497.6,789.6 M500.5,787.8 L500.5,789.6"/>
<!-- commutator white wedges -->
<path class="wf" d="M391.5,772.1 L383.3,779.1 L382.1,787.3 L390.3,787.3 L391.5,785 L403.2,783.8 L400.8,776.8 L396.1,773.3 Z"/>
<path class="wf" d="M389.1,811.9 L395,818.9 L403.2,820.1 L407.8,814.2 L410.2,806 L403.2,808.4 L396.1,810.7 Z"/>
<!-- radial marks -->
<g class="ws" style="stroke-width:3.3">
<path d="M376.5,764.5 L380.5,769.5 M372.5,771.5 L381.5,774.8 M370.8,777.2 L378,780.2 M369.5,785.8 L377.5,785.8"/>
<path d="M383.8,760 L384.3,764 M390.3,762.5 L391,770 M396.6,764 L398.3,770 M393.5,757 L400.5,757 M403,770.5 L404.5,775.3 M404,758.9 L405,759"/>
<path d="M407,776.5 L409.3,781 M410.5,784.5 L413.5,790.5 M414,793.8 L416,798.5 M414.5,802 L416.5,808 M413.8,811.5 L416,816 M411.5,818.5 L413.5,822"/>
<path d="M385,813.5 L380.5,823 M388.5,820.5 L384,828 M391.5,823 L390,831 M396.5,825.5 L396.5,834 M402.5,826.5 L404,834 M406.8,823 L409,829"/>
<path d="M409.5,833.5 L411,834.5 M412.5,832 L414.5,833"/>
</g>
<!-- hub stripes -->
<path class="ws" style="stroke-width:2" d="M378.6,799 L396.1,794.3 M379.8,804.9 L391.5,802.5 M393,800.5 L397.3,800.8"/>
<path class="ws" style="stroke-width:1.8" d="M379.8,791.5 L384,791.5 M387,790.5 L388.5,790.5"/>
<path class="ws" style="stroke-width:2.2" d="M400.8,790.8 C402.5,793 403.5,795.3 403.7,797.8 L402,803.7"/>
<path class="ws" style="stroke-width:1.4" d="M407.3,790.8 C408.5,794 409,797.5 408.8,801"/>
<!-- shaft -->
<path class="f" d="M354,796.8 L365.5,795 L375.5,797.5 L375.5,813.5 L372.7,814.5 L359.9,817 L353,817.7 L349.5,814 L348.6,808 L349.5,802 Z"/>
<path class="wf" d="M362,800 L366,799 L374,798.7 L375.6,812 L366,812.5 L360.8,813 C358.5,811 357.8,808 358.2,805 C358.8,802.5 360,801 362,800 Z"/>
<path class="ws" style="stroke-width:1.6" d="M352.5,803 L355,803 M351.5,809 L354.5,809 M355.5,813.8 L357,813.8"/>
</g>
<!-- 19_part5 -->
<g id="brushes">
<!-- leader -->
<path class="ld" d="M593,792 L592,832"/>
<path class="f" d="M592.5,782 L594,782 L595,788 L596.5,795.5 L589.8,795.5 L591.5,788 Z"/>
<!-- upper brush -->
<path class="w" d="M607.9,656.7 L622.5,656.7 L632.7,658.9 L633.5,680.1 L628.3,680.8 L616.6,679.4 L607.9,680.8 Z"/>
<path class="f" d="M621,658 L627,659 L627,680 L622.5,679.5 L620,672 L622,665 Z"/>
<path class="t" d="M629.5,662 L630,677"/>
<path class="l" d="M608.6,681.5 L609.3,694.7 L618.1,691.8 L618.5,680.5"/>
<path class="f" d="M609,690 L615,684.5 L617.5,684.5 L617.8,691.8 L609.5,694.5 Z"/>
<!-- wire band -->
<path class="l" d="M609.3,697.6 L618.1,699.1 L617.4,713.7 C615.8,718.5 613.5,722.8 610.8,726.9 L607.9,738.6 L603.5,744.4 L594.7,745.9"/>
<path class="l" d="M609.3,699.1 L607.9,710.8 C606.8,713.7 605.3,716 603.5,718.1 C601,720 598,721.5 594.7,722.5 L594.7,728.3 L600.6,731.3 L608,728"/>
<!-- left brush -->
<path class="w" d="M551.6,701.3 L558.2,698.4 L568.4,696.9 L575.7,696.9 L577.9,706.4 L574.2,718.1 L572.8,725.4 L559.6,728.3 L551.6,727.6 Z"/>
<path class="f" d="M567.5,697 L575.7,696.9 L577.9,706.4 L575,715 L566,708 Z"/>
<path class="t" d="M555.5,703.5 L555.5,724.5 M558.2,702 L567,700.5"/>
<!-- diagonal bar -->
<path class="l" style="stroke-width:6.5" d="M568.4,706 L590,716"/>
<path class="ws" style="stroke-width:1.8" d="M571.5,709.3 L586,715.6"/>
<!-- stem -->
<path class="l" style="stroke-width:4" d="M575.7,719.6 L585.9,745.9 M585.9,718.1 L594.7,741.5"/>
<path class="t" style="stroke-width:2.8" d="M580.8,722 L588.5,743.5"/>
<path class="l" d="M588.9,747.3 L590.3,770.7 M599.8,745.5 L600.6,770.7"/>
<path class="t" style="stroke-width:2.8" d="M595.5,748 L596.5,769"/>
<path class="l" d="M586,746.5 L600,744.5"/>
<!-- lower brush -->
<path class="w" d="M572.8,760.5 L587.4,757.6 L588.9,769.3 L601.3,772.2 L602,779.5 L585.9,785.4 L580.1,781 L572.8,766.3 Z"/>
<path class="f" d="M572.8,760.5 L577,760 L579.5,765 L586.5,777.5 L591,776 L593.5,772 L601.3,772.2 L602,779.5 L585.9,785.4 L580.1,781 L572.8,766.3 Z"/>
<path class="ws" style="stroke-width:1.5" d="M592,778.5 L597.5,776.8"/>
</g>
<g id="brush-holder">
<!-- top-left slanted brush -->
<path class="l" d="M644.4,660.7 L649,655.3 L658.4,661.5 L672.4,672.4 L659.9,681 L644.4,664.6 Z"/>
<path class="t" style="stroke-width:2.6" d="M648.5,660.5 L661,675.5"/>
<!-- arch -->
<path class="l" d="M658.4,655.3 L663.1,649.8 C666,648 669,647 672.4,646.7 C676,647 679,647.8 681.8,649 C684.5,650.8 686.5,652.8 688,655.3 L691.1,664.6"/>
<path class="l" d="M661.5,659.9 L666.2,655.3 L674,654.5 C676.5,655.5 678.5,656.8 680.2,658.4 C682.3,660.8 683.8,663.3 684.9,666.2 L686.4,675.5"/>
<path class="l" d="M670.9,661.5 L677.1,666.2 C679,669 680.6,672 681.8,675.5"/>
<path class="l" d="M665,664 L672.4,672.4"/>
<!-- top right chain band -->
<path class="l" style="stroke-width:8.5" d="M692.5,661 L698,659.5 L713,662.5 L726,665.5 L728.5,672"/>
<path class="ws" style="stroke-width:2.2" d="M694,662.5 L697,662.2 M702,659.8 L706.5,660.6 M710,662.5 L714.5,663.2 M719.5,664 L724,665"/>
<path class="ws" style="stroke-width:1.6" d="M699,665.5 L703,666 M715,667.2 L719,668"/>
<!-- right wing -->
<path class="f" d="M729,670 L741,677.1 L747.2,688 L750.4,697.4 L749.6,712.9 L747.2,722.3 L742.6,722.3 L737.9,711.4 L727,697.4 L722.3,688 L719.5,681.5 L724,672 Z"/>
<path class="wf" d="M727,684.5 L731,690 L737,699 L741,706 L744,714 L743.5,702 L742,695.5 L737.5,694 L736.5,690 L733,689.5 L732,685 Z"/>
<path class="wf" d="M724.5,681 L728,681 L728,684 L724.5,684 Z M731.5,681.5 L734.5,682 L734.5,685 L731.5,684.5 Z"/>
<path class="ws" style="stroke-width:1.7" d="M745.5,700.5 L744.8,718.5"/>
<!-- middle box row -->
<path class="f" d="M680.2,672.4 L722.3,670.9 L724,680 L728.5,687.5 L721,688.5 L712.9,684.9 L680.2,686.4 Z"/>
<path class="wf" d="M682,674.5 L685.5,674.5 L685.5,684.5 L682,684.5 Z M688.2,675.5 L695,675.5 L695,684.3 L688.2,684.5 Z M697.5,675.5 L705.8,675.3 L705.8,680 C704.5,682.5 702,683.5 699.5,682.5 L697.5,680 Z M708.3,674 L712,674 L712,683 L708.3,683 Z M714.6,672.8 L719,672.8 L719.5,683 L714.8,683 Z M722.5,683.5 L727.5,684 L728,687.5 L722.5,687.2 Z"/>
<!-- left lower brush -->
<path class="l" d="M666.2,686.4 L672.4,683.3 L677.1,689.6 L678.6,700.5 L672.4,705.2 L667,700.5 Z"/>
<path class="l" d="M670,688.5 L675.5,698.5"/>
<path class="f" d="M675,684.5 L681.5,686 L681.5,697 L678.5,699 L677.5,690 Z"/>
<!-- central body -->
<path class="l" d="M680.2,702 L678.6,712.9 L681.8,725.4 L684.9,741 L688,750.4"/>
<path class="l" style="stroke-width:3.8" d="M695.8,688 L702,709.8 L708.3,725.4"/>
<path class="l" d="M681.8,697.4 L692.7,697.4 M692.5,688 L694.2,702 L700.5,716.1 L702,728.5"/>
<path class="l" d="M681,692.5 L691,689.5"/>
<ellipse class="l" style="stroke-width:3.6" cx="690.3" cy="723.8" rx="3.2" ry="5.2"/>
<path class="l" style="stroke-width:3.8" d="M684.9,731.6 L700.5,733.2"/>
<!-- lower boxes -->
<path class="f" d="M686.4,734 L702,733 L706,727 L712,722 L722.3,719.2 L728.5,723.9 L741,730.1 L740.2,734.8 L736,733 L731,729.5 L730.5,741 L734.8,744.1 L733,750 L728.5,753.5 L720,753 L709.8,751.5 L690,752.5 L688,750.4 Z"/>
<path class="wf" d="M690.5,738.5 L693.2,738.5 L693.8,749 L691.5,749 Z M695.5,741 L700,741 L700.5,749 L696,749 Z M702.5,738 L704.5,736 L705,748 L702.8,748 Z"/>
<path class="wf" d="M706.5,738.5 C708,736 711,735.5 713,737 L713.5,745 C711.5,747.5 708.5,747.5 707,745.5 Z M716,735.5 L719,735 L721,749.5 L717.5,749 Z M722.5,732 L726.5,730.5 L728,746 L724,749.5 Z"/>
<path class="wf" d="M709.5,728 L714,725.5 L718,731.5 L713.5,733 Z M720.5,724 L724.5,723.5 L729,727.5 L723,730 Z"/>
<path class="f" d="M708.5,740 L711.5,740 L711.5,743.5 L708.5,743.5 Z"/>
<!-- bottom brush -->
<path class="l" d="M709.8,753.5 L689.6,755 L691.1,784.6 L698.9,784.6 L703.6,775.3 L720.7,773.7 L728.5,764.4 L728.5,753.5"/>
<path class="t" style="stroke-width:2.6" d="M694.2,758.2 L695,781.5 M697.5,758 L702.5,773"/>
<path class="l" d="M712.9,755 L714.5,765.9 L703.6,772.2"/>
<path class="l" d="M720.7,753.5 L722.3,764.4 L716.1,772.2"/>
</g>
<!-- 20_endcap -->
<g id="bolt">
<!-- thread -->
<path class="f" d="M704.8,589.5 L778.9,568.5 L782.5,581.5 L707.5,600.5 L704,597 L703.2,593 Z"/>
<g fill="#fff">
<path d="M707.5,592.5 L710.8,591.6 L711.8,595.6 L708.5,596.5 Z"/>
<path d="M714,590.7 L717,589.9 L718.4,594 L715.4,594.8 Z"/>
<path d="M720.3,589 L723.3,588.2 L724.7,592.3 L721.7,593.1 Z"/>
<path d="M726.6,587.3 L729.6,586.5 L731,590.6 L728,591.4 Z"/>
<path d="M732.9,585.6 L735.9,584.8 L737.3,588.9 L734.3,589.7 Z"/>
<path d="M739.2,583.9 L742.2,583.1 L743.6,587.2 L740.6,588 Z"/>
<path d="M745.5,582.2 L748.5,581.4 L749.9,585.5 L746.9,586.3 Z"/>
<path d="M751.8,580.5 L754.8,579.7 L756.2,583.8 L753.2,584.6 Z"/>
<path d="M758.1,578.8 L761.1,578 L762.5,582.1 L759.5,582.9 Z"/>
<path d="M764.4,577.1 L767.4,576.3 L768.8,580.4 L765.8,581.2 Z"/>
<path d="M770.7,575.4 L775.5,574 L777,578.2 L772.1,579.5 Z"/>
</g>
<!-- shaft -->
<path class="l" d="M778.9,569.8 L837.9,552.9 M782.5,580 L843.2,564.5"/>
<!-- head -->
<path class="f" d="M837.9,551.1 L843.2,546.6 L852.1,548.4 L857.5,552.9 L859.3,560 L855.7,565.4 L848.6,568 L845,570.7 L841.4,567.1 L841.5,562 L838.5,556 Z"/>
<ellipse class="wf" cx="846.5" cy="559.3" rx="2.6" ry="6.6" transform="rotate(-10 846.5 559.3)"/>
<path class="ws" style="stroke-width:1.6" d="M850.8,551.5 C853,555 853.5,560 852,565"/>
<path class="ws" style="stroke-width:1.6" d="M855,554 L855,555.6 M855.3,559.5 L855.3,561.1"/>
</g>
<g id="endcap">
<!-- body -->
<path class="l" d="M790,625.5 L810.5,618.6 L825.5,618.6 L835,622.7 L835,628.2 L843.2,636.4 L851.4,650 L858.2,667.8 L861,685.5 L865,686.9 L865,700.5 L861,707.3 L854.1,710 L848.7,719.6 L837.8,727.8 L824.1,730.5"/>
<!-- front outer ellipse -->
<path class="l" d="M790,625.5 L776.4,630.2 C772,632.5 768.5,635.5 765.5,639.1 C762.5,643.8 760.2,648.8 758.6,654.1 C757.3,659.5 756.6,665 756.6,670.5 C756.7,677 757.3,683.3 758.6,689.6 C760.3,696.2 762.6,702.5 765.5,708.7 C768.5,714.5 772.2,720 776.4,725.1 C779.8,728.8 783.4,732 787.3,734.6 C791.2,736.8 795.3,738.2 799.6,738.7 C803.4,738.7 807,738.3 810.5,737.3 C814.5,735.7 818.2,733.4 821.4,730.5 C824.2,726.8 826.4,722.7 828.2,718.2 C829.8,713.3 830.9,708.3 831.6,703.2 L832.3,686.9"/>
<path class="t" style="stroke-width:2.6" d="M784.6,630.9 L772.3,636.4 C768.8,640.5 766,645 764.1,650 C762.7,655.3 762,660.8 762.1,666.4 C762.5,673.3 763.7,680 765.5,686.9 L770.2,704.6"/>
<path class="t" style="stroke-width:2.6" d="M777.7,716.9 C781,721 784.7,724.6 788.7,727.8 C792,730.3 795.7,732.2 799.6,733.2 C803.3,733.5 807,733 810.5,731.9 C813.5,730.2 816.3,728 818.7,725.1 C821.5,721.7 823.7,718 825.5,714.1 L828.9,700.5"/>
<!-- thick top arc -->
<path class="l" style="stroke-width:5" d="M790,627.5 C794.5,629.3 798.5,631.5 802.3,634.3 C805.8,636.5 809,639 811.8,641.8 C814.5,644.7 816.8,648 818.7,651.4"/>
<path class="f" d="M785.8,636.5 L790,636.5 L790.5,640 L794.5,640.3 L794.5,644 L786.5,644.8 Z"/>
<!-- lug -->
<path class="l" style="stroke-width:3.8" d="M818.7,652.7 L826.9,652.1 L837.8,652.7 C840,654.5 841.4,656.8 841.9,659.6 C841.5,662.5 840.6,664.8 839.1,666.4 L832.3,667.8 L828.2,663.7"/>
<path class="t" d="M829,656.5 L831.5,665.5"/>
<!-- bearing housing -->
<path class="l" style="stroke-width:3.8" d="M807.8,652.7 C805.2,655.5 803.4,658.7 802.3,662.3 C801.7,667 801.7,671.5 802.3,675.9 C803.7,681 806,685.6 809.1,689.6 C811.8,693 815,695.8 818.7,697.8 L829.6,699.1"/>
<path class="l" d="M825.5,660.9 L814.6,659.6 C811.5,661.5 809.2,664.3 807.8,667.8 C807.2,671.5 807.2,675.2 807.8,678.7 C809.2,683.5 811.5,687.5 814.6,690.9 C817.8,693 821.4,694.3 825.5,695"/>
<path class="t" style="stroke-width:2.8" d="M818.7,663.7 C816,665.5 814.2,667.8 813.2,670.5 C813,674.5 813.5,678 814.6,681.4 C816.3,684.8 818.6,687.6 821.4,689.6"/>
<path class="t" style="stroke-width:2.8" d="M821.4,666.4 C819.8,668.5 818.9,670.8 818.7,673.2 C819,677 820,680 821.4,682.8 L826.9,686.9"/>
<path class="t" style="stroke-width:2.6" d="M825.5,670.5 C824.5,673.5 824,676 824.1,678.7 L828.3,685"/>
<path class="l" style="stroke-width:4.2" d="M826.9,665 C829.5,670 831.3,675.5 832.3,681.4 C832.5,688 831.6,694.5 829.6,700.5"/>
<!-- inner plate -->
<path class="l" d="M790,659.6 L787.3,652.7 L780.5,656.8 L781.2,675.9 C782.2,681.8 783.8,687.2 785.9,692.3 C788.7,698 791.8,703.5 795.5,708.7 C799.3,714 803.4,719 807.8,723.7 L810.5,725.1"/>
<path class="t" style="stroke-width:2.6" d="M784.6,673.2 C785.8,679 787.6,684.5 790,689.6 C792.8,695.3 796,700.8 799.6,706 L809.1,719.6"/>
<!-- dots -->
<g fill="#000">
<rect x="790.2" y="657.6" width="2.6" height="7"/><rect x="795.5" y="662.4" width="2.6" height="2.6"/><rect x="792.2" y="667.8" width="2.6" height="4"/><rect x="797.6" y="668.5" width="2.2" height="3.4"/><rect x="784.8" y="670.6" width="3.6" height="3.8"/><rect x="795.5" y="676" width="2.6" height="3.4"/><rect x="791.4" y="686.9" width="6" height="4"/><rect x="794.2" y="691" width="3.4" height="4"/><rect x="799.6" y="684.8" width="2.2" height="2.8"/><rect x="802.4" y="692.4" width="2" height="5.4"/><rect x="804.4" y="700.5" width="2.6" height="4.8"/><rect x="810.5" y="700.5" width="2.2" height="4.8"/><rect x="807.8" y="710.1" width="2.2" height="4.8"/><rect x="811.9" y="710.8" width="2.6" height="4.8"/><rect x="809.2" y="718.3" width="2" height="5.4"/><rect x="813.2" y="718.3" width="2" height="2.8"/>
</g>
</g>
<g id="bushing-right">
<path class="ld" style="stroke-width:2.7" d="M890.5,672 L889.5,716"/>
<path fill="#000" d="M888,674.2 L893.8,676.4 L893.8,679.7 L892.4,680 L892.9,682.4 L891.9,684 L889.1,684 L889.1,680 L888,680 Z"/>
<path fill="#000" d="M888,642 L891.9,642 L892.1,644.2 L896,644.2 L897,647.7 L899,648.3 L900,651.8 L901.1,652.4 L901.1,657.8 L902,658.4 L901.7,660 L901.1,665.8 L899,666 L898.7,667.7 L896,668 L895.7,669.9 L894,669.9 L893.8,668.2 L892.2,668.2 L892.4,672 L889.1,671.8 L878.2,671.8 L876,669.6 L874.1,667.7 L872.2,663.9 L871.1,659.8 L871.1,654.3 L872.2,650.2 L873,648.3 L876,646.1 L882,644.2 L888,644.2 Z"/>
<path class="wf" d="M885,646.1 L892.9,646.1 L894.9,649.7 L897,652.4 L898.1,654.6 L898.1,661.7 L896,664.4 L895.7,666 L889.1,666 L888.9,662.2 L887.2,662.2 L886.1,664.1 L886.1,657.8 L888,657.8 L887.8,654 L886.9,653.7 L886.7,650.2 L885,649.9 Z"/>
<path class="ws" style="stroke-width:0.9" d="M883.1,652.1 L885.8,657.8"/>
<path class="wf" d="M875.2,650.2 L877.9,650.2 L877.9,651.8 L876,652.1 L875.7,654 L874.9,654 Z"/>
<rect class="wf" x="880.9" y="649.9" width="1.1" height="2.2"/>
<path class="wf" d="M878.2,655.9 L881.2,655.9 L882,657.8 L882,663.9 L879,663.9 L877.7,660 L876,660 L875.7,661.9 L874.9,661.9 L873.8,658.4 L877.7,657.8 Z"/>
<rect class="wf" x="882.8" y="665.8" width="1.4" height="2.1"/><rect class="wf" x="885" y="664.1" width="0.8" height="1.9"/>
</g>
</svg>
</body>
</html>
